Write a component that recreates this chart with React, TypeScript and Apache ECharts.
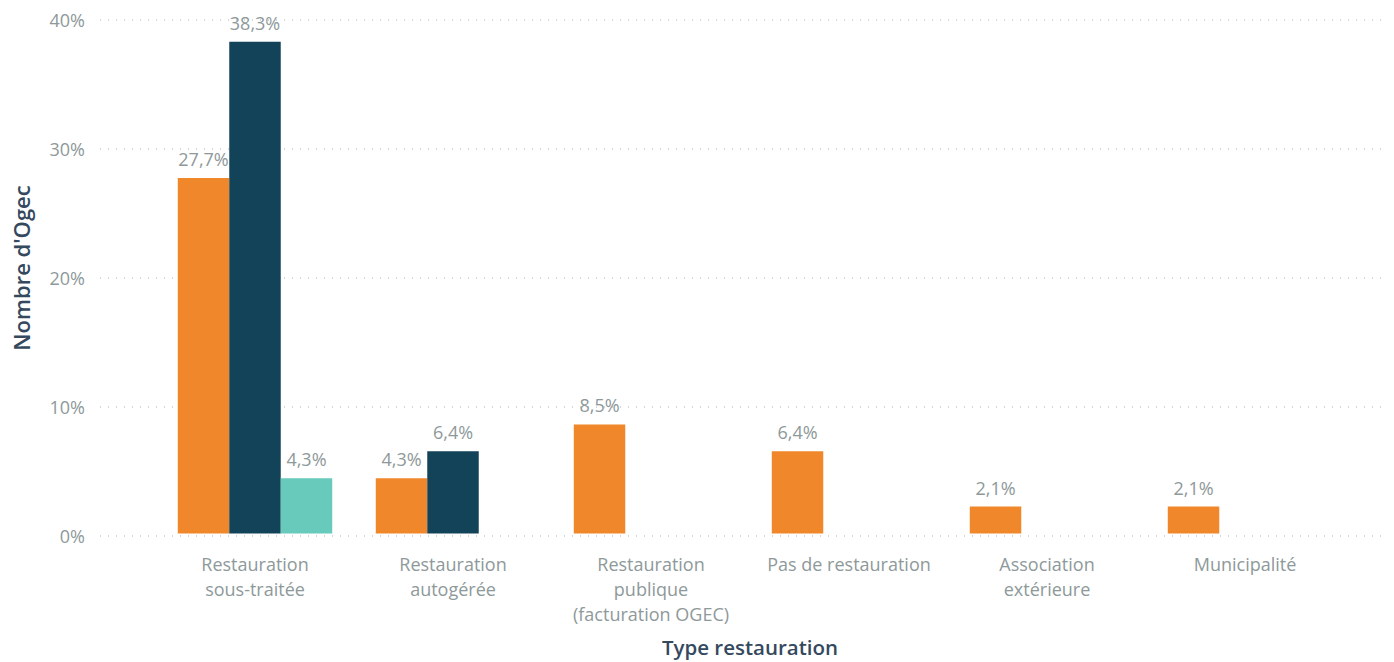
import React, { useEffect, useRef } from "react";
import * as echarts from "echarts";

const categories = [
  "Restauration\nsous-traitée",
  "Restauration\nautogérée",
  "Restauration\npublique\n(facturation OGEC)",
  "Pas de restauration",
  "Association\nextérieure",
  "Municipalité",
];
const seriesA = [27.7, 4.3, 8.5, 6.4, 2.1, 2.1];
const seriesB = [38.3, 6.4, null, null, null, null];
const seriesC = [4.3, null, null, null, null, null];
const yTicks = [0, 10, 20, 30, 40];

const FONT = "'Open Sans', 'Noto Sans', sans-serif";
const labelColor = "#8e999a";

export default function App() {
  const ref = useRef<HTMLDivElement>(null);
  useEffect(() => {
    document.body.style.margin = "0";
    const chart = echarts.init(ref.current!, null, { renderer: "svg" });
    const lbl = {
      show: true,
      position: "top",
      distance: 10,
      color: labelColor,
      fontSize: 18,
      fontFamily: FONT,
      formatter: (p: any) => p.value.toFixed(1).replace(".", ",") + "%",
    };
    const mk = (name: string, data: any[], color: string) => ({
      name,
      type: "bar",
      xAxisIndex: 1,
      yAxisIndex: 1,
      data,
      barGap: "0%",
      barCategoryGap: "22%",
      itemStyle: { color },
      label: lbl,
    });
    chart.setOption({
      animation: false,
      textStyle: { fontFamily: FONT },
      grid: [
        { left: 100, right: 9, top: 20, height: 516 },
        { left: 156, right: 50, top: 20, height: 516 },
      ],
      xAxis: [
        { type: "value", gridIndex: 0, show: false, min: 0, max: 1 },
        {
          type: "category",
          gridIndex: 1,
          data: categories,
          axisLine: { show: false },
          axisTick: { show: false },
          axisLabel: {
            interval: 0,
            color: labelColor,
            fontSize: 18,
            lineHeight: 25,
            margin: 18,
            fontFamily: FONT,
          },
          name: "Type restauration",
          nameLocation: "middle",
          nameGap: 113,
          nameTextStyle: {
            color: "#34495e",
            fontSize: 20.5,
            fontWeight: 600,
            verticalAlign: "middle",
            fontFamily: FONT,
          },
        },
      ],
      yAxis: [
        {
          type: "value",
          gridIndex: 0,
          min: yTicks[0],
          max: yTicks[yTicks.length - 1],
          interval: 10,
          axisLine: { show: false },
          axisTick: { show: false },
          axisLabel: {
            color: labelColor,
            fontSize: 18,
            margin: 15,
            fontFamily: FONT,
            formatter: "{value}%",
          },
          splitLine: {
            lineStyle: { color: "#c6c9ca", type: [1, 7], width: 1.5 },
          },
        },
        {
          type: "value",
          gridIndex: 1,
          min: 0,
          max: 40,
          show: false,
          splitLine: { show: false },
        },
      ],
      graphic: [
        {
          type: "text",
          x: 21,
          y: 268,
          rotation: Math.PI / 2,
          style: {
            text: "Nombre d'Ogec",
            fill: "#34495e",
            fontSize: 22,
            fontWeight: 600,
            fontFamily: FONT,
            align: "center",
            verticalAlign: "middle",
          },
        },
      ],
      series: [
        mk("A", seriesA, "#f0872b"),
        mk("B", seriesB, "#124359"),
        mk("C", seriesC, "#67cabb"),
      ],
    });
    return () => chart.dispose();
  }, []);
  return <div ref={ref} style={{ width: 1394, height: 662 }} />;
}
